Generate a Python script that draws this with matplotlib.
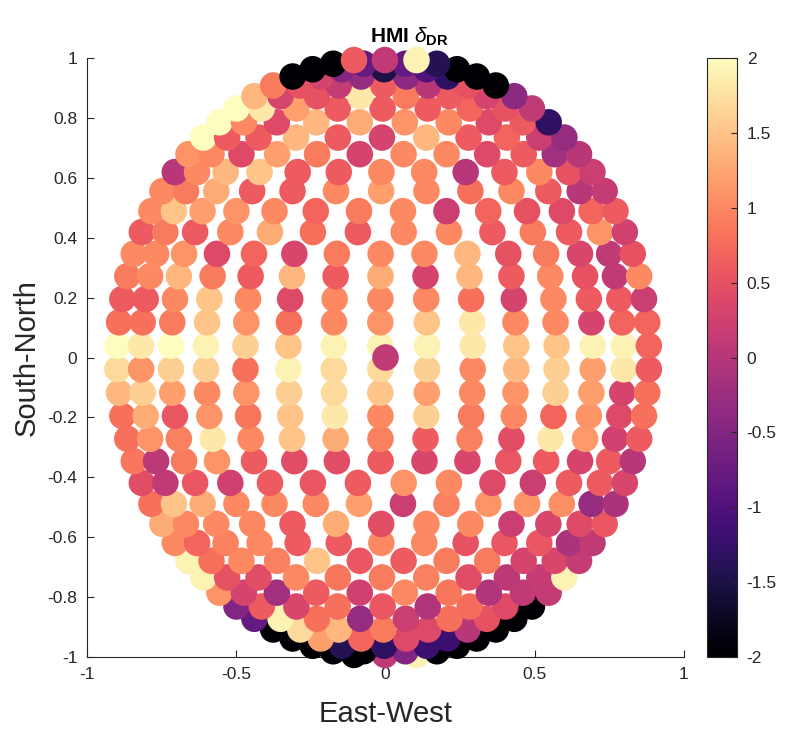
import numpy as np
import matplotlib
matplotlib.use("Agg")
import matplotlib.pyplot as plt

plt.rcParams['font.family'] = ['Liberation Sans', 'DejaVu Sans']
plt.rcParams['mathtext.fontset'] = 'custom'
plt.rcParams['mathtext.rm'] = 'Liberation Sans'
plt.rcParams['mathtext.it'] = 'Liberation Sans:italic'
plt.rcParams['mathtext.bf'] = 'Liberation Sans:bold'

# ---- grid description (degrees) ----
row_lat = [2.25, 6.75, 11.25, 15.75, 20.25, 24.75, 29.25, 33.75, 38.25, 42.75,
           47.25, 51.75, 56.25, 60.75, 65.25, 69.75, 74.25, 78.75, 83.25]
row_count = [15, 15, 15, 15, 15, 14, 14, 13, 13, 12, 11, 10, 9, 8, 7, 6, 5, 4, 3]
lon_center = -1.0
lon_half_span = 63.0

# ---- delta_DR values, row by row (east -> west) ----
north_vals = [
    [2.0, 1.8, 2.0, 1.9, 1.6, 1.5, 1.9, 1.9, 1.9, 1.8, 1.5, 1.5, 1.9, 1.9, 0.7],
    [0.8, 0.8, 0.9, 1.5, 1.1, 0.8, 1.0, 1.1, 1.5, 1.8, 1.0, 1.0, 0.3, 0.7, 0.7],
    [0.6, 0.6, 1.0, 1.5, 1.0, 0.4, 1.0, 1.0, 1.0, 0.8, 0.3, 1.0, 0.6, 0.6, 0.2],
    [0.9, 1.0, 1.4, 0.9, 0.6, 1.4, 0.6, 1.3, 0.3, 1.4, 0.6, 1.0, 0.5, 0.1, 1.0],
    [1.0, 1.0, 1.1, 0.4, 0.7, 0.35, 0.9, 1.0, 1.0, 1.4, 0.5, 0.9, 0.35, 0.1, 0.5],
    [0.6, 0.9, 0.6, 1.0, 1.3, 0.8, 0.6, 1.0, 1.0, 0.6, 0.9, 0.6, 1.1, 0.25],
    [1.0, 1.5, 1.2, 1.1, 1.0, 0.7, 0.9, 1.0, 0.2, 0.7, 0.5, 0.4, 0.7, 0.6],
    [1.0, 0.9, 1.3, 0.6, 0.6, 1.0, 1.2, 1.0, 0.8, 1.0, 0.6, 0.0, 0.15],
    [0.0, 1.0, 1.4, 1.5, 0.6, 0.6, 1.0, 1.0, 0.0, 0.6, 1.0, 0.5, 0.2],
    [1.1, 1.0, 0.4, 1.2, 0.9, 0.3, 1.0, 1.0, 0.4, 0.6, -0.2, 0.0],
    [2.0, 0.6, 0.6, 1.4, 0.6, 0.3, 1.4, 0.6, 0.7, 0.2, -0.3],
    [2.0, 1.0, 0.4, 1.4, 1.3, 1.1, 1.0, 0.4, 0.6, -1.3],
    [2.0, 1.8, 1.2, 0.6, 0.6, 0.6, 0.7, 0.5, 0.1],
    [1.4, 0.3, 0.5, 1.8, 0.9, 0.6, 0.3, -0.4],
    [0.9, 0.5, 0.15, 0.6, 0.0, 0.5, -2.0],
    [-2.0, 0.3, -0.3, -0.4, -1.3, -2.0],
    [-2.0, -0.5, -1.5, -1.0, -2.0],
    [-2.0, -0.8, -0.8, -1.4],
    [0.6, 0.1, 1.9],
]
south_vals = [
    [1.7, 1.1, 1.6, 1.6, 0.8, 1.9, 1.7, 1.7, 1.6, 1.0, 1.4, 1.6, 1.2, 1.8, 0.6],
    [1.4, 1.6, 1.2, 1.0, 1.1, 1.6, 1.7, 1.5, 1.2, 1.0, 1.1, 1.6, 1.2, 0.3, 0.8],
    [0.8, 1.3, 0.55, 1.1, 0.85, 1.5, 1.8, 1.0, 1.6, 0.9, 1.0, 0.7, 1.1, 0.4, 0.8],
    [0.8, 1.1, 0.95, 1.8, 1.0, 1.5, 1.3, 0.95, 0.6, 0.95, 0.45, 1.8, 1.15, 0.25, 0.6],
    [0.85, 0.05, 0.9, 1.1, 0.6, 0.45, 0.45, 0.6, 0.35, 0.35, 0.55, 0.6, 0.3, 0.6, 0.0],
    [0.45, 0.1, 0.55, 0.25, 0.6, 0.55, 0.6, 1.1, 1.0, 0.4, 0.2, 0.6, 0.6, 0.35],
    [0.8, 1.5, 1.3, 1.0, 1.0, 1.0, 1.2, 0.2, 0.95, 1.1, 1.1, 1.05, -0.3, -0.1],
    [1.3, 1.0, 1.0, 1.0, 0.6, 1.3, 0.45, 1.0, 1.0, 0.2, 0.35, 0.4, 0.55],
    [1.0, 0.7, 0.95, 1.0, 0.6, 0.6, 1.0, 1.0, 0.5, 0.55, 0.55, -0.1, 0.1],
    [1.9, 0.8, 1.0, 0.95, 1.5, 0.55, 0.6, 0.9, 0.9, 0.3, 0.35, 0.15],
    [1.9, 0.5, 0.45, 1.0, 0.85, 0.9, 0.95, 0.45, 0.05, 0.15, 1.9],
    [1.1, 0.3, -0.2, 0.6, 0.25, 1.0, 0.85, -0.05, 0.1, 0.15],
    [-0.5, 0.6, 0.35, 0.8, 0.55, -0.05, 0.75, 0.4, -2.0],
    [-0.8, 1.9, 0.8, -0.3, 0.2, 0.8, 0.5, -2.0],
    [-2.0, 1.7, 1.4, 0.9, 0.4, 0.0, -2.0],
    [-2.0, 1.2, 0.7, 0.4, -1.2, -2.0],
    [-2.0, -1.4, -1.3, -1.2, -2.0],
    [-2.0, -2.0, -0.5, -2.0],
    [-2.0, 0.1, 1.9],
]
center_val = 0.1

x_ticks = [-1, -0.5, 0, 0.5, 1]
x_labels = ['-1', '-0.5', '0', '0.5', '1']
y_ticks = [-1, -0.8, -0.6, -0.4, -0.2, 0, 0.2, 0.4, 0.6, 0.8, 1]
y_labels = ['-1', '-0.8', '-0.6', '-0.4', '-0.2', '0', '0.2', '0.4', '0.6', '0.8', '1']
cb_ticks = [-2, -1.5, -1, -0.5, 0, 0.5, 1, 1.5, 2]
cb_labels = ['-2', '-1.5', '-1', '-0.5', '0', '0.5', '1', '1.5', '2']

# ---- build point list, drawn from south pole to north pole ----
xs, ys, cs = [], [], []
order = [(-lat, n, v) for lat, n, v in zip(row_lat, row_count, south_vals)][::-1] + \
        [(lat, n, v) for lat, n, v in zip(row_lat, row_count, north_vals)]
for lat, n, vals in order:
    lons = lon_center + np.linspace(-lon_half_span, lon_half_span, n)
    la = np.radians(lat)
    lo = np.radians(lons)
    xs.extend(np.cos(la) * np.sin(lo))
    ys.extend(np.full(n, np.sin(la)))
    cs.extend(vals)
xs.append(0.0); ys.append(0.0); cs.append(center_val)

W, H = 806, 729
fig = plt.figure(figsize=(W / 100, H / 100), dpi=100)
ax = fig.add_axes([87 / W, (H - 657) / H, 597 / W, 599 / H])
sc = ax.scatter(xs, ys, c=cs, cmap='magma', vmin=-2, vmax=2, s=365,
                linewidths=0, zorder=3, clip_on=False)

ax.set_xlim(-1, 1)
ax.set_ylim(-1, 1)
ax.set_xticks(x_ticks)
ax.set_xticklabels(x_labels)
ax.set_yticks(y_ticks)
ax.set_yticklabels(y_labels)
for side in ['top', 'right']:
    ax.spines[side].set_visible(False)
for side in ['left', 'bottom']:
    ax.spines[side].set_color('#262626')
    ax.spines[side].set_linewidth(0.8)
ax.tick_params(direction='in', length=5, width=0.8, colors='#262626',
               labelsize=12.5, pad=7)
ax.set_xlabel('East-West', fontsize=21, color='#262626', labelpad=13)
ax.set_ylabel('South-North', fontsize=21, color='#262626', labelpad=5)
ax.set_title(r'HMI $\delta_{\mathbf{DR}}$', fontsize=15, fontweight='bold',
             pad=11, x=0.54)

cax = fig.add_axes([707 / W, (H - 657) / H, 30 / W, 599 / H])
cb = fig.colorbar(sc, cax=cax)
cb.set_ticks(cb_ticks)
cb.set_ticklabels(cb_labels)
cb.outline.set_edgecolor('#262626')
cb.outline.set_linewidth(0.8)
cax.tick_params(direction='in', length=4, width=0.8, colors='#262626',
                labelsize=12.5, pad=7)

fig.savefig('out.png', dpi=100)
